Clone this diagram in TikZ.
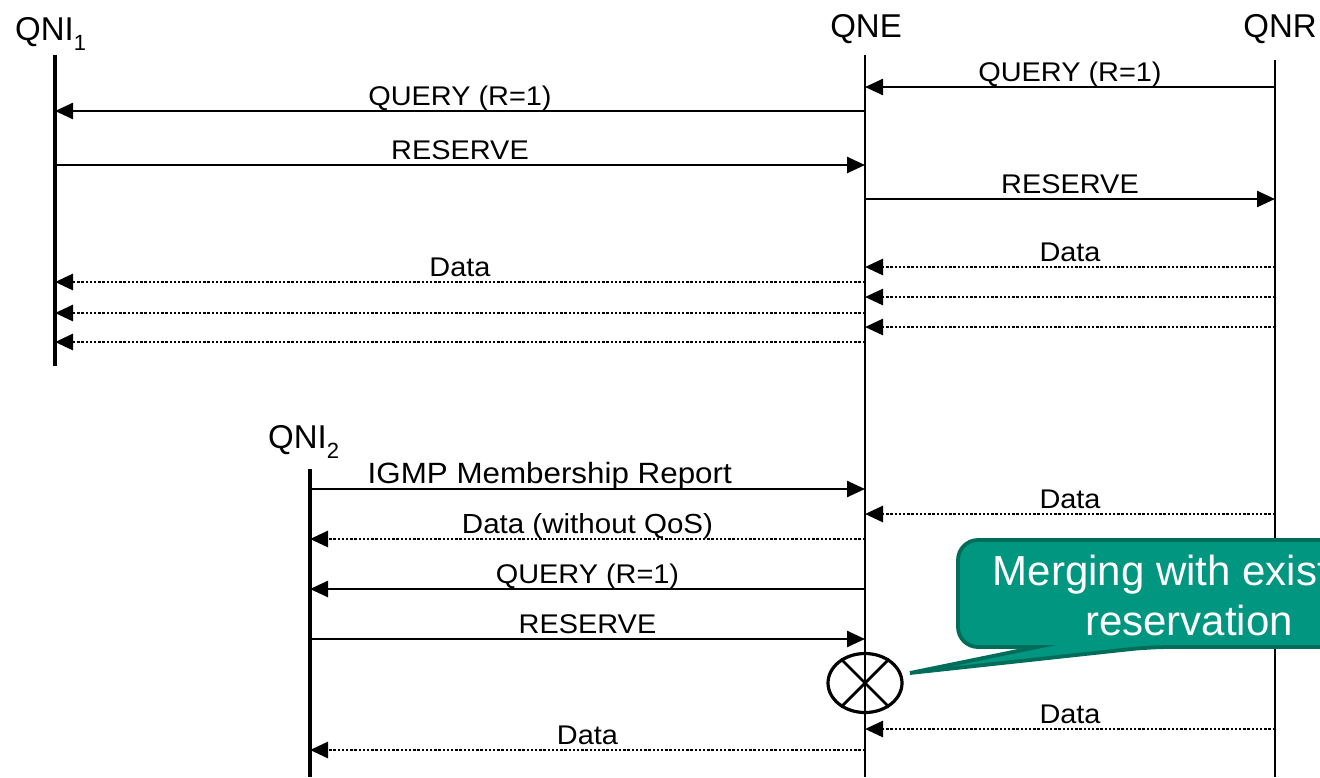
\documentclass[tikz,border=0pt]{standalone}
\usepackage{fontspec}
\setmainfont{Liberation Sans}
\newfontfamily\msgfont[FakeStretch=1.07]{Liberation Sans}
\usetikzlibrary{arrows.meta,shapes.geometric}
\definecolor{calloutfill}{RGB}{0,150,128}
\definecolor{calloutline}{RGB}{0,108,90}

% one message row: style, sender, receiver, row y, label position, label
\newcommand\sendmsg[6]{%
  \coordinate (row#4) at (0,#4);
  \draw[#1] (#2 |- row#4) -- node[lbl,pos=#5]{#6} (#3 |- row#4);}
% one unlabelled message row: style, sender, receiver, row y
\newcommand\sendbare[4]{%
  \coordinate (row#4) at (0,#4);
  \draw[#1] (#2 |- row#4) -- (#3 |- row#4);}

\begin{document}
\begin{tikzpicture}[x=1pt,y=-1pt,
  life/.style={line width=1.8pt},
  lifebold/.style={line width=3.4pt},
  msg/.style={line width=2.5pt,-{Triangle[length=18pt,width=16pt]}},
  datamsg/.style={msg,line width=2.8pt,dash pattern=on 2.5pt off 1.7pt},
  lbl/.style={font=\msgfont\fontsize{27}{27}\selectfont,inner sep=0pt,
              text depth=0.25em,anchor=south,yshift=1.5pt},
  biglbl/.style={font=\msgfont\fontsize{29.3}{29.3}\selectfont},
  midlbl/.style={font=\msgfont\fontsize{27.6}{27.6}\selectfont},
  title/.style={font=\fontsize{33}{33}\selectfont,inner sep=0pt},
  callout/.style={line width=3.8pt,draw=calloutline,fill=calloutfill},
  callouttext/.style={font=\fontsize{42}{42}\selectfont,text=white,inner sep=0pt,anchor=base},
]
\useasboundingbox (0,0) rectangle (1320,777);
\clip (0,0) rectangle (1320,777);

% entity names
\node[title,anchor=base west] (qni1) at (15,40)
  {QNI\raisebox{-10pt}{\fontsize{22}{22}\selectfont 1}};
\node[title,anchor=base] (qne) at (866,37) {QNE};
\node[title,anchor=base east] (qnr) at (1317,37) {QNR};
\node[title,anchor=base west] (qni2) at (268,448)
  {QNI\raisebox{-10pt}{\fontsize{22}{22}\selectfont 2}};

% lifelines
\coordinate (qni1top) at (55,55);   \coordinate (qni1bot) at (55,366);
\coordinate (qnetop)  at (865,55);  \coordinate (qnebot)  at (865,777);
\coordinate (qnrtop)  at (1275,60); \coordinate (qnrbot)  at (1275,777);
\coordinate (qni2top) at (310,469); \coordinate (qni2bot) at (310,777);
\draw[lifebold] (qni1top) -- (qni1bot);
\draw[life] (qnetop) -- (qnebot);
\draw[life] (qnrtop) -- (qnrbot);
\draw[lifebold] (qni2top) -- (qni2bot);

% first receiver joins
\sendmsg{msg}{qnrtop}{qnetop}{87}{0.5}{QUERY (R=1)}
\sendmsg{msg}{qnetop}{qni1top}{111}{0.5}{QUERY (R=1)}
\sendmsg{msg}{qni1top}{qnetop}{165}{0.5}{RESERVE}
\sendmsg{msg}{qnetop}{qnrtop}{199}{0.5}{RESERVE}
\sendmsg{datamsg}{qnrtop}{qnetop}{267}{0.5}{Data}
\sendmsg{datamsg}{qnetop}{qni1top}{282}{0.5}{Data}
\sendbare{datamsg}{qnrtop}{qnetop}{297}
\sendbare{datamsg}{qnetop}{qni1top}{313}
\sendbare{datamsg}{qnrtop}{qnetop}{327}
\sendbare{datamsg}{qnetop}{qni1top}{342}

% second receiver joins
\coordinate (row489) at (0,489);
\draw[msg] (qni2top |- row489) -- node[lbl,biglbl,pos=0.432]{IGMP Membership Report} (qnetop |- row489);
\sendmsg{datamsg}{qnrtop}{qnetop}{514}{0.5}{Data}
\coordinate (row539) at (0,539);
\draw[datamsg] (qnetop |- row539) -- node[lbl,midlbl,pos=0.5]{Data (without QoS)} (qni2top |- row539);
\sendmsg{msg}{qnetop}{qni2top}{589}{0.5}{QUERY (R=1)}
\sendmsg{msg}{qni2top}{qnetop}{639}{0.5}{RESERVE}
\sendmsg{datamsg}{qnrtop}{qnetop}{729}{0.5}{Data}
\sendmsg{datamsg}{qnetop}{qni2top}{750}{0.5}{Data}

% merge point
\node[draw,ellipse,line width=3.2pt,inner sep=0pt,
      minimum width=74pt,minimum height=59pt] (merge) at (865,683) {};
\draw[line width=2.8pt] (merge.135) -- (merge.-45);
\draw[line width=2.8pt] (merge.45) -- (merge.-135);

% callout
\coordinate (tip) at (910,673);
\draw[callout,rounded corners=20pt]
  (958,595) -- (958,540) -- (1420,540) -- (1420,647) -- (1150,647)
  [sharp corners] -- (tip) -- (1037,647) [rounded corners=20pt] -- (958,647) -- cycle;
\node[callouttext] (mergeline1) at (1189,585) {Merging with existing};
\node[callouttext] (mergeline2) at (1189,635) {reservation};
\end{tikzpicture}
\end{document}
